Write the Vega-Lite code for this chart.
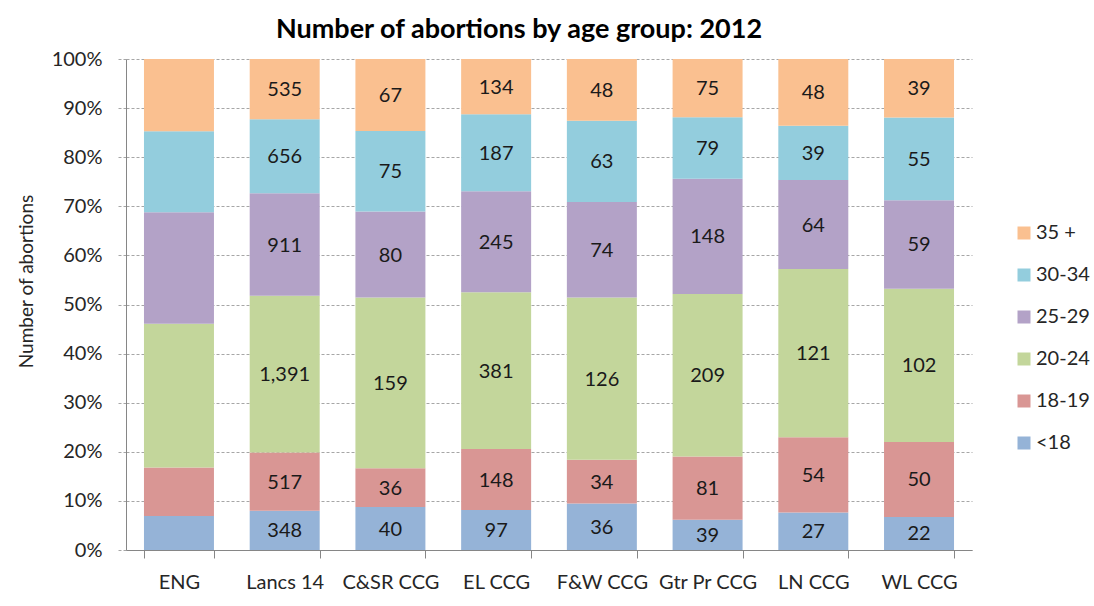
{
  "$schema": "https://vega.github.io/schema/vega-lite/v6.json",
  "autosize": {"type": "none"},
  "padding": {"left": 126, "top": 59, "right": 122, "bottom": 56},
  "width": 846,
  "height": 491,
  "background": "white",
  "config": {
    "font": "Lato",
    "view": {"stroke": null},
    "axis": {"labelFont": "Lato", "titleFont": "Lato", "labelColor": "#262626", "titleColor": "#262626"},
    "legend": {"labelFont": "Lato"}
  },
  "title": {
    "text": "Number of abortions by age group: 2012",
    "font": "Lato",
    "fontSize": 27,
    "fontWeight": "bold",
    "color": "#000000",
    "anchor": "middle",
    "dx": -30,
    "offset": 5
  },
  "data": {
    "values": [
      {"area": "ENG", "age": "<18", "n": 12774},
      {"area": "ENG", "age": "18-19", "n": 18327},
      {"area": "ENG", "age": "20-24", "n": 54241},
      {"area": "ENG", "age": "25-29", "n": 42023},
      {"area": "ENG", "age": "30-34", "n": 30545},
      {"area": "ENG", "age": "35 +", "n": 27212},
      {"area": "Lancs 14", "age": "<18", "n": 348},
      {"area": "Lancs 14", "age": "18-19", "n": 517},
      {"area": "Lancs 14", "age": "20-24", "n": 1391},
      {"area": "Lancs 14", "age": "25-29", "n": 911},
      {"area": "Lancs 14", "age": "30-34", "n": 656},
      {"area": "Lancs 14", "age": "35 +", "n": 535},
      {"area": "C&SR CCG", "age": "<18", "n": 40},
      {"area": "C&SR CCG", "age": "18-19", "n": 36},
      {"area": "C&SR CCG", "age": "20-24", "n": 159},
      {"area": "C&SR CCG", "age": "25-29", "n": 80},
      {"area": "C&SR CCG", "age": "30-34", "n": 75},
      {"area": "C&SR CCG", "age": "35 +", "n": 67},
      {"area": "EL CCG", "age": "<18", "n": 97},
      {"area": "EL CCG", "age": "18-19", "n": 148},
      {"area": "EL CCG", "age": "20-24", "n": 381},
      {"area": "EL CCG", "age": "25-29", "n": 245},
      {"area": "EL CCG", "age": "30-34", "n": 187},
      {"area": "EL CCG", "age": "35 +", "n": 134},
      {"area": "F&W CCG", "age": "<18", "n": 36},
      {"area": "F&W CCG", "age": "18-19", "n": 34},
      {"area": "F&W CCG", "age": "20-24", "n": 126},
      {"area": "F&W CCG", "age": "25-29", "n": 74},
      {"area": "F&W CCG", "age": "30-34", "n": 63},
      {"area": "F&W CCG", "age": "35 +", "n": 48},
      {"area": "Gtr Pr CCG", "age": "<18", "n": 39},
      {"area": "Gtr Pr CCG", "age": "18-19", "n": 81},
      {"area": "Gtr Pr CCG", "age": "20-24", "n": 209},
      {"area": "Gtr Pr CCG", "age": "25-29", "n": 148},
      {"area": "Gtr Pr CCG", "age": "30-34", "n": 79},
      {"area": "Gtr Pr CCG", "age": "35 +", "n": 75},
      {"area": "LN CCG", "age": "<18", "n": 27},
      {"area": "LN CCG", "age": "18-19", "n": 54},
      {"area": "LN CCG", "age": "20-24", "n": 121},
      {"area": "LN CCG", "age": "25-29", "n": 64},
      {"area": "LN CCG", "age": "30-34", "n": 39},
      {"area": "LN CCG", "age": "35 +", "n": 48},
      {"area": "WL CCG", "age": "<18", "n": 22},
      {"area": "WL CCG", "age": "18-19", "n": 50},
      {"area": "WL CCG", "age": "20-24", "n": 102},
      {"area": "WL CCG", "age": "25-29", "n": 59},
      {"area": "WL CCG", "age": "30-34", "n": 55},
      {"area": "WL CCG", "age": "35 +", "n": 39}
    ]
  },
  "transform": [
    {"calculate": "indexof(['<18','18-19','20-24','25-29','30-34','35 +'], datum.age)", "as": "k"}
  ],
  "encoding": {
    "x": {
      "field": "area",
      "type": "nominal",
      "sort": null,
      "scale": {"paddingInner": 0.338, "paddingOuter": 0.17},
      "axis": {
        "title": null,
        "labelAngle": 0,
        "labelFontSize": 20,
        "labelPadding": 14,
        "tickBand": "extent",
        "tickSize": 8,
        "tickColor": "#868686",
        "domainColor": "#868686",
        "grid": false
      }
    },
    "y": {
      "field": "n",
      "type": "quantitative",
      "stack": "normalize",
      "scale": {"domain": [0, 1]},
      "axis": {
        "title": "Number of abortions",
        "titleFontSize": 19,
        "titleFontWeight": "normal",
        "titlePadding": 15,
        "titleY": 222,
        "format": ".0%",
        "values": [0, 0.1, 0.2, 0.3, 0.4, 0.5, 0.6, 0.7, 0.8, 0.9, 1],
        "labelFontSize": 20,
        "labelPadding": 16,
        "tickSize": 8,
        "tickColor": "#A6A6A6",
        "tickDash": [3, 2],
        "domainColor": "#868686",
        "grid": true,
        "gridColor": "#A6A6A6",
        "gridDash": [3, 2]
      }
    },
    "order": {"field": "k", "type": "quantitative"}
  },
  "layer": [
    {
      "mark": {"type": "bar"},
      "encoding": {
        "color": {
          "field": "age",
          "type": "nominal",
          "scale": {
            "domain": ["35 +", "30-34", "25-29", "20-24", "18-19", "<18"],
            "range": ["#FAC090", "#93CDDD", "#B3A2C7", "#C3D69B", "#D99694", "#95B3D7"]
          },
          "legend": {
            "title": null,
            "orient": "none",
            "legendX": 888,
            "legendY": 164,
            "symbolType": "square",
            "symbolSize": 169,
            "symbolStrokeWidth": 0,
            "labelFontSize": 20,
            "labelColor": "#262626",
            "labelOffset": 2,
            "rowPadding": 22,
            "padding": 0
          }
        }
      }
    },
    {
      "transform": [{"filter": "datum.area !== 'ENG'"}],
      "mark": {"type": "text", "fontSize": 20, "color": "#1a1a1a", "baseline": "middle", "dy": 1},
      "encoding": {
        "y": {"field": "n", "type": "quantitative", "stack": "normalize", "bandPosition": 0.5},
        "detail": {"field": "age"},
        "text": {"field": "n", "type": "quantitative", "format": ",d"}
      }
    }
  ]
}
